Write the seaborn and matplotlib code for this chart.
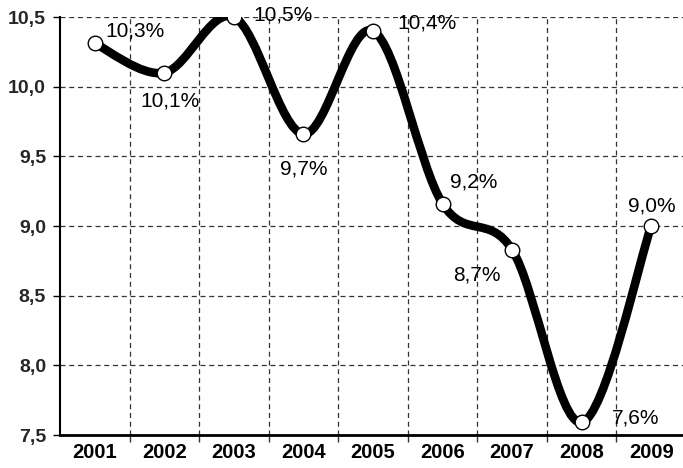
import numpy as np
import matplotlib
matplotlib.use("Agg")
import matplotlib.pyplot as plt
from matplotlib.path import Path
from matplotlib.patches import PathPatch
from matplotlib.ticker import FixedLocator, FuncFormatter
import seaborn as sns
import pandas as pd

# data
years = ["2001", "2002", "2003", "2004", "2005", "2006", "2007", "2008", "2009"]
values = [10.31, 10.1, 10.5, 9.66, 10.4, 9.16, 8.83, 7.59, 9.0]
labels = ["10,3%", "10,1%", "10,5%", "9,7%", "10,4%", "9,2%", "8,7%", "7,6%", "9,0%"]
# label offsets in pixels (dx, dy) and horizontal alignment
label_pos = [(11, 12, "left"), (6, -28, "center"), (19, 2, "left"), (0, -35, "center"),
             (24, 8, "left"), (31, 22, "center"), (-35, -25, "center"),
             (30, 4, "left"), (1, 20, "center")]

sns.set_theme(style="white")
plt.rcParams["font.family"] = ["Liberation Sans", "DejaVu Sans"]

df = pd.DataFrame({"year": years, "value": values})
df["x"] = np.arange(len(df))

fig = plt.figure(figsize=(6.83, 4.68), dpi=100)
ax = fig.add_axes([60 / 683, 1 - 435 / 468, 626 / 683, 418 / 468])

# smooth line through the points: cubic Bezier segments (Catmull-Rom style)
xs = df["x"].to_numpy(dtype=float)
ys = df["value"].to_numpy(dtype=float)
pts = np.column_stack([xs, ys])
verts = [pts[0]]
codes = [Path.MOVETO]
n = len(pts)
for i in range(n - 1):
    p0 = pts[i - 1] if i > 0 else pts[i]
    p1, p2 = pts[i], pts[i + 1]
    p3 = pts[i + 2] if i + 2 < n else pts[i + 1]
    c1 = p1 + (p2 - p0) / 6
    c2 = p2 - (p3 - p1) / 6
    verts += [c1, c2, p2]
    codes += [Path.CURVE4] * 3
ax.add_patch(PathPatch(Path(verts, codes), facecolor="none", edgecolor="black",
                       lw=6.2, capstyle="round", joinstyle="round", zorder=3))

sns.scatterplot(data=df, x="x", y="value", ax=ax, s=110, color="white",
                edgecolor="black", linewidth=1, zorder=4, legend=False)

for (xv, yv, lab, (dx, dy, ha)) in zip(xs, ys, labels, label_pos):
    ax.annotate(lab, (xv, yv), xytext=(dx, dy), textcoords="offset pixels",
                ha=ha, va="center", fontsize=15, color="black", zorder=5)

ax.set_xlim(-0.5, len(years) - 0.5)
ax.set_ylim(7.5, 10.5)
ax.set_xticks(np.arange(len(years)))
ax.set_xticklabels(years, fontweight="bold", fontsize=14.5)
ax.xaxis.set_minor_locator(FixedLocator(np.arange(0.5, len(years) - 0.5, 1)))
ax.set_yticks(np.arange(7.5, 10.51, 0.5))
ax.yaxis.set_major_formatter(FuncFormatter(lambda v, p: f"{v:.1f}".replace(".", ",")))
for t in ax.get_yticklabels():
    t.set_fontweight("bold")
    t.set_fontsize(14)

ax.tick_params(axis="x", which="major", length=0, pad=6, colors="black")
ax.tick_params(axis="x", which="minor", length=5, width=1, color="#333333", bottom=True)
ax.tick_params(axis="y", which="major", length=5, width=1, color="black", left=True, pad=5)

ax.grid(False)
ax.grid(True, axis="y", which="major", linestyle=(0, (4, 3)), color="#333333", lw=0.9)
ax.grid(True, axis="x", which="minor", linestyle=(0, (4, 3)), color="#333333", lw=0.9)

for s in ["top", "right"]:
    ax.spines[s].set_visible(False)
ax.spines["left"].set_color("black")
ax.spines["left"].set_linewidth(1.5)
ax.spines["bottom"].set_color("black")
ax.spines["bottom"].set_linewidth(2)
ax.set_xlabel("")
ax.set_ylabel("")

fig.savefig("out.png", dpi=100)
